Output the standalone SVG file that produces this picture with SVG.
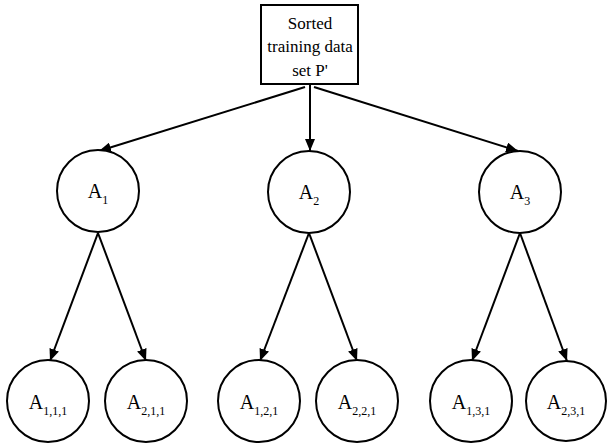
<svg xmlns="http://www.w3.org/2000/svg" width="608" height="448" viewBox="0 0 608 448">
  <style>
    .node { fill: #fff; stroke: #000; stroke-width: 2; }
    .edge { fill: none; stroke: #000; stroke-width: 2; marker-end: url(#arrow); }
    text { font-family: "Liberation Serif", "Times New Roman", serif; fill: #000; text-anchor: middle; }
    .box { font-size: 17px; }
    .lbl { font-size: 20px; }
    .sub { font-size: 12px; }
  </style>
  <defs>
    <marker id="arrow" markerUnits="userSpaceOnUse" markerWidth="12" markerHeight="10" refX="12" refY="5" orient="auto">
      <path d="M0,0 L12,5 L0,10 z" fill="#000"/>
    </marker>
  </defs>
  <rect width="608" height="448" fill="#fff"/>

  <g id="connectors">
    <line class="edge" x1="305" y1="87" x2="99" y2="151"/>
    <line class="edge" x1="310" y1="85" x2="310" y2="151"/>
    <line class="edge" x1="314" y1="87" x2="518" y2="151"/>
    <line class="edge" x1="98" y1="233" x2="50" y2="361"/>
    <line class="edge" x1="98" y1="233" x2="146" y2="361"/>
    <line class="edge" x1="309" y1="233" x2="260" y2="361"/>
    <line class="edge" x1="309" y1="233" x2="357" y2="361"/>
    <line class="edge" x1="520" y1="233" x2="472" y2="361"/>
    <line class="edge" x1="520" y1="233" x2="567" y2="361"/>
  </g>

  <g id="root">
    <rect class="node" x="261" y="5" width="97" height="79"/>
    <text class="box" x="310" y="29">Sorted</text>
    <text class="box" x="310" y="52">training data</text>
    <text class="box" x="310" y="76">set P'</text>
  </g>

  <g id="a1">
    <circle class="node" cx="98" cy="191" r="41"/>
    <text class="lbl" x="98" y="198">A<tspan class="sub" dy="6">1</tspan></text>
  </g>
  <g id="a2">
    <circle class="node" cx="309" cy="192" r="41"/>
    <text class="lbl" x="309" y="199">A<tspan class="sub" dy="6">2</tspan></text>
  </g>
  <g id="a3">
    <circle class="node" cx="520" cy="192" r="41"/>
    <text class="lbl" x="520" y="199">A<tspan class="sub" dy="6">3</tspan></text>
  </g>

  <g id="a111">
    <circle class="node" cx="48" cy="401" r="41"/>
    <text class="lbl" x="48" y="409">A<tspan class="sub" dy="6">1,1,1</tspan></text>
  </g>
  <g id="a211">
    <circle class="node" cx="146" cy="401" r="41"/>
    <text class="lbl" x="146" y="409">A<tspan class="sub" dy="6">2,1,1</tspan></text>
  </g>
  <g id="a121">
    <circle class="node" cx="259" cy="401" r="41"/>
    <text class="lbl" x="259" y="409">A<tspan class="sub" dy="6">1,2,1</tspan></text>
  </g>
  <g id="a221">
    <circle class="node" cx="357" cy="401" r="41"/>
    <text class="lbl" x="357" y="409">A<tspan class="sub" dy="6">2,2,1</tspan></text>
  </g>
  <g id="a131">
    <circle class="node" cx="471" cy="401" r="41"/>
    <text class="lbl" x="471" y="409">A<tspan class="sub" dy="6">1,3,1</tspan></text>
  </g>
  <g id="a231">
    <circle class="node" cx="566" cy="401" r="40"/>
    <text class="lbl" x="566" y="409">A<tspan class="sub" dy="6">2,3,1</tspan></text>
  </g>
</svg>
